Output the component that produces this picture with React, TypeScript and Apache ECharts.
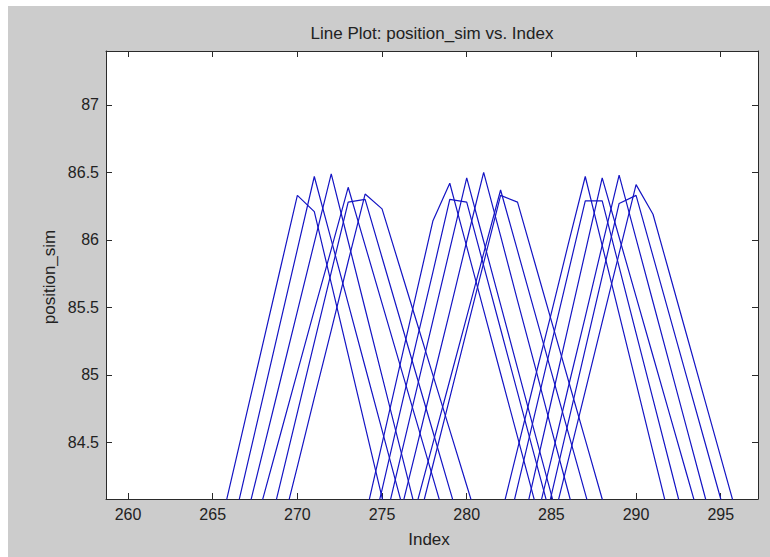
import React, { useEffect, useRef } from "react";
import * as echarts from "echarts";

const titleText = "Line Plot: position_sim vs. Index";
const xLabelText = "Index";
const yLabelText = "position_sim";

const xMin = 258.7;
const xMax = 297.2;
const yMin = 84.08;
const yMax = 87.4;
const xStep = 5;
const yStep = 0.5;

// first index of each line
const lineStarts = [
  265, 266, 267, 267, 268, 269,
  274, 274, 275, 276, 277, 277,
  282, 282, 283, 284, 284, 285,
];

// position_sim values of each line, one value per index from its start
const line01 = [83.63, 84.17, 84.71, 85.25, 85.79, 86.33, 86.21, 85.68, 85.15, 84.62, 84.09, 83.56];
const line02 = [83.77, 84.31, 84.85, 85.39, 85.93, 86.47, 86.0, 85.53, 85.06, 84.59, 84.12, 83.65];
const line03 = [83.94, 84.45, 84.96, 85.47, 85.98, 86.49, 85.99, 85.49, 84.99, 84.49, 83.99];
const line04 = [83.65, 84.1, 84.56, 85.02, 85.48, 85.93, 86.39, 85.96, 85.53, 85.1, 84.67, 84.24, 83.81];
const line05 = [83.68, 84.2, 84.72, 85.24, 85.76, 86.28, 86.3, 85.87, 85.44, 85.01, 84.58, 84.15, 83.72];
const line06 = [83.82, 84.32, 84.83, 85.33, 85.84, 86.34, 86.23, 85.82, 85.41, 85.0, 84.59, 84.18, 83.77];
const line07 = [83.94, 84.49, 85.04, 85.59, 86.14, 86.42, 85.95, 85.48, 85.01, 84.54, 84.07, 83.6];
const line08 = [83.62, 84.15, 84.69, 85.23, 85.76, 86.3, 86.28, 85.81, 85.34, 84.87, 84.4, 83.93];
const line09 = [83.81, 84.34, 84.87, 85.4, 85.93, 86.46, 85.99, 85.52, 85.05, 84.58, 84.11, 83.64];
const line10 = [83.93, 84.44, 84.96, 85.47, 85.99, 86.5, 86.03, 85.55, 85.08, 84.6, 84.13, 83.65];
const line11 = [84.02, 84.49, 84.96, 85.43, 85.9, 86.37, 85.92, 85.47, 85.02, 84.57, 84.12, 83.67];
const line12 = [83.83, 84.33, 84.83, 85.33, 85.83, 86.33, 86.28, 85.84, 85.4, 84.96, 84.52, 84.08, 83.64];
const line13 = [83.94, 84.45, 84.96, 85.46, 85.97, 86.47, 85.96, 85.45, 84.94, 84.43, 83.92];
const line14 = [83.64, 84.17, 84.7, 85.23, 85.76, 86.29, 86.29, 85.8, 85.31, 84.82, 84.33, 83.84];
const line15 = [83.71, 84.26, 84.81, 85.36, 85.91, 86.46, 86.02, 85.58, 85.14, 84.7, 84.26, 83.82];
const line16 = [83.86, 84.38, 84.91, 85.43, 85.96, 86.48, 86.01, 85.54, 85.07, 84.6, 84.13, 83.66];
const line17 = [83.57, 84.11, 84.65, 85.19, 85.73, 86.27, 86.33, 85.88, 85.43, 84.98, 84.53, 84.08, 83.63];
const line18 = [83.86, 84.37, 84.88, 85.39, 85.9, 86.41, 86.19, 85.74, 85.29, 84.84, 84.39, 83.94];

const allLines = [
  line01, line02, line03, line04, line05, line06,
  line07, line08, line09, line10, line11, line12,
  line13, line14, line15, line16, line17, line18,
];

const FONT = "'Liberation Sans', Arial, Helvetica, sans-serif";
const AXIS_COLOR = "#2a2a2a";
const TEXT_COLOR = "#222222";
const LINE_COLOR = "#1414c4";

function makeXAxis(pos: "bottom" | "top") {
  return {
    type: "value",
    position: pos,
    min: xMin,
    max: xMax,
    minInterval: xStep,
    maxInterval: xStep,
    axisLine: { show: true, onZero: false, lineStyle: { color: AXIS_COLOR, width: 1 } },
    axisTick: { show: true, inside: true, length: 6, lineStyle: { color: AXIS_COLOR, width: 1 } },
    axisLabel: {
      show: pos === "bottom",
      color: TEXT_COLOR,
      fontSize: 16,
      fontFamily: FONT,
      margin: 7,
      showMinLabel: false,
      showMaxLabel: false,
    },
    splitLine: { show: false },
  };
}

function makeYAxis(pos: "left" | "right") {
  return {
    type: "value",
    position: pos,
    min: yMin,
    max: yMax,
    minInterval: yStep,
    maxInterval: yStep,
    axisLine: { show: true, onZero: false, lineStyle: { color: AXIS_COLOR, width: 1 } },
    axisTick: { show: true, inside: true, length: 6, lineStyle: { color: AXIS_COLOR, width: 1 } },
    axisLabel: {
      show: pos === "left",
      color: TEXT_COLOR,
      fontSize: 16,
      fontFamily: FONT,
      margin: 7,
      showMinLabel: false,
      showMaxLabel: false,
    },
    splitLine: { show: false },
  };
}

export default function App() {
  const ref = useRef<HTMLDivElement>(null);

  useEffect(() => {
    document.body.style.margin = "0";
    const el = ref.current;
    if (!el) return;
    const chart = echarts.init(el, null, { renderer: "svg" });

    const series = allLines.map((vals, i) => ({
      type: "line",
      xAxisIndex: 0,
      yAxisIndex: 0,
      showSymbol: false,
      symbol: "none",
      clip: true,
      silent: true,
      lineStyle: { color: LINE_COLOR, width: 1.2 },
      data: vals.map((v, k) => [lineStarts[i] + k, v]),
    }));

    chart.setOption({
      animation: false,
      backgroundColor: "#cccccc",
      grid: {
        left: 98,
        top: 45,
        right: 12,
        bottom: 58,
        show: true,
        backgroundColor: "#ffffff",
        borderWidth: 0,
      },
      xAxis: [makeXAxis("bottom"), makeXAxis("top")],
      yAxis: [makeYAxis("left"), makeYAxis("right")],
      series,
      graphic: [
        {
          type: "text",
          x: 424,
          y: 27,
          style: {
            text: titleText,
            fill: TEXT_COLOR,
            font: `17px ${FONT}`,
            textAlign: "center",
            textVerticalAlign: "middle",
          },
        },
        {
          type: "text",
          x: 421,
          y: 533,
          style: {
            text: xLabelText,
            fill: TEXT_COLOR,
            font: `17px ${FONT}`,
            textAlign: "center",
            textVerticalAlign: "middle",
          },
        },
        {
          type: "text",
          x: 41,
          y: 271,
          rotation: Math.PI / 2,
          style: {
            text: yLabelText,
            fill: TEXT_COLOR,
            font: `17px ${FONT}`,
            textAlign: "center",
            textVerticalAlign: "middle",
          },
        },
      ],
    });

    return () => {
      chart.dispose();
    };
  }, []);

  return (
    <div style={{ width: 770, height: 557, background: "#ffffff", position: "relative" }}>
      <div
        ref={ref}
        style={{ position: "absolute", left: 8, top: 6, width: 762, height: 551 }}
      />
    </div>
  );
}
